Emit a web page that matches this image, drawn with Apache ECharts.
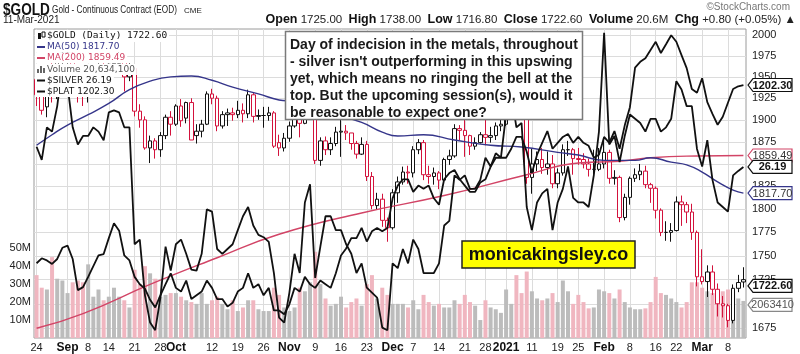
<!DOCTYPE html>
<html>
<head>
<meta charset="utf-8">
<script src="https://cdn.jsdelivr.net/npm/echarts@6/dist/echarts.min.js"></script>
<style>
  html, body { margin: 0; padding: 0; background: #fff; }
  #chart { width: 800px; height: 354px; }
</style>
</head>
<body>
<div id="chart"></div>
<script>
// Trading days Aug 24 2020 - Mar 11 2021 (weekends and exchange holidays skipped)
const holidays = ['2020-09-07', '2020-11-26', '2020-12-25', '2021-01-01', '2021-01-18', '2021-02-15'];
const dates = [];
for (let t = Date.UTC(2020, 7, 24); t <= Date.UTC(2021, 2, 11); t += 86400000) {
  const d = new Date(t);
  const iso = d.toISOString().slice(0, 10);
  if (d.getUTCDay() === 0 || d.getUTCDay() === 6 || holidays.includes(iso)) continue;
  dates.push(iso);
}

// x axis tick labels (index into dates, text)
const tickPos = [0, 6, 10, 14, 19, 24, 27, 34, 39, 44, 49, 54, 59, 64, 69, 73, 78, 83, 87, 91, 96, 101, 105, 110, 115, 120, 124, 129, 134];
const tickText = ['24', 'Sep', '8', '14', '21', '28', 'Oct', '12', '19', '26', 'Nov', '9', '16', '23', 'Dec', '7', '14', '21', '28', '2021', '11', '19', '25', 'Feb', '8', '16', '22', 'Mar', '8'];
const boldTicks = ['Sep', 'Oct', 'Nov', 'Dec', '2021', 'Feb', 'Mar'];

const goldTicks = [1675, 1700, 1725, 1750, 1775, 1800, 1825, 1850, 1875, 1900, 1925, 1950, 1975, 2000];
const volTicks = [10, 20, 30, 40, 50];

// $GOLD daily candles
const opens = [
  1947, 1929, 1915, 1953, 1931, 1975, 1978, 1978, 1944, 1938,
  1934, 1943, 1954, 1964, 1947, 1965, 1966, 1970, 1950, 1960,
  1910, 1900, 1868, 1876, 1866, 1882, 1903, 1895, 1916, 1902,
  1920, 1882, 1887, 1895, 1930, 1925, 1893, 1906, 1908, 1906,
  1911, 1907, 1929, 1904, 1905, 1905, 1908, 1874, 1868, 1879,
  1893, 1910, 1896, 1946, 1951, 1854, 1876, 1866, 1873, 1886,
  1887, 1885, 1873, 1861, 1872, 1836, 1804, 1811, 1788, 1780,
  1818, 1830, 1841, 1840, 1866, 1874, 1838, 1836, 1840, 1832,
  1855, 1859, 1890, 1888, 1882, 1870, 1874, 1883, 1880, 1882,
  1893, 1895, 1946, 1954, 1918, 1913, 1835, 1850, 1855, 1846,
  1850, 1828, 1840, 1866, 1866, 1856, 1855, 1850, 1844, 1844,
  1850, 1863, 1834, 1835, 1791, 1813, 1834, 1838, 1842, 1827,
  1823, 1799, 1775, 1775, 1777, 1808, 1805, 1797, 1775, 1728,
  1723, 1733, 1715, 1700, 1698, 1683, 1716, 1725
];
const highs = [
  1958, 1937, 1956, 1978, 1976, 1984, 2001, 1980, 1950, 1947,
  1949, 1960, 1974, 1970, 1968, 1977, 1983, 1973, 1966, 1963,
  1918, 1904, 1882, 1879, 1886, 1906, 1910, 1918, 1924, 1921,
  1925, 1895, 1900, 1933, 1936, 1928, 1910, 1913, 1914, 1922,
  1919, 1935, 1931, 1912, 1915, 1915, 1910, 1883, 1885, 1898,
  1914, 1913, 1950, 1966, 1965, 1880, 1881, 1880, 1892, 1900,
  1894, 1885, 1876, 1880, 1876, 1841, 1818, 1817, 1791, 1822,
  1836, 1847, 1848, 1870, 1878, 1877, 1848, 1846, 1842, 1857,
  1866, 1895, 1894, 1907, 1883, 1880, 1886, 1902, 1892, 1897,
  1904, 1950, 1957, 1963, 1926, 1917, 1867, 1864, 1868, 1864,
  1860, 1845, 1872, 1876, 1868, 1868, 1862, 1856, 1866, 1868,
  1877, 1866, 1843, 1837, 1817, 1836, 1845, 1850, 1848, 1829,
  1825, 1801, 1787, 1785, 1814, 1815, 1808, 1806, 1777, 1757,
  1740, 1740, 1721, 1708, 1700, 1720, 1730, 1738
];
const lows = [
  1916, 1906, 1903, 1920, 1924, 1962, 1963, 1937, 1920, 1916,
  1920, 1932, 1945, 1942, 1942, 1954, 1958, 1933, 1945, 1904,
  1891, 1866, 1851, 1856, 1858, 1878, 1882, 1893, 1892, 1896,
  1877, 1873, 1880, 1894, 1918, 1887, 1890, 1893, 1899, 1902,
  1897, 1902, 1897, 1900, 1891, 1899, 1868, 1859, 1864, 1875,
  1891, 1880, 1895, 1938, 1850, 1848, 1860, 1860, 1870, 1858,
  1877, 1866, 1856, 1860, 1831, 1800, 1800, 1781, 1765, 1778,
  1807, 1827, 1828, 1835, 1861, 1832, 1828, 1827, 1822, 1828,
  1849, 1857, 1877, 1858, 1860, 1866, 1873, 1871, 1874, 1877,
  1887, 1893, 1938, 1902, 1906, 1828, 1817, 1842, 1839, 1838,
  1823, 1823, 1837, 1859, 1838, 1849, 1845, 1836, 1833, 1842,
  1845, 1828, 1827, 1786, 1788, 1805, 1830, 1832, 1823, 1807,
  1790, 1771, 1766, 1765, 1776, 1782, 1785, 1767, 1718, 1720,
  1707, 1709, 1687, 1686, 1676, 1680, 1712, 1716.8
];
const closes = [
  1929, 1911, 1953, 1931, 1975, 1978, 1978, 1944, 1938, 1934,
  1943, 1954, 1964, 1947, 1965, 1966, 1970, 1950, 1962, 1910,
  1900, 1868, 1876, 1866, 1882, 1903, 1895, 1916, 1899, 1920,
  1877, 1887, 1895, 1930, 1925, 1893, 1906, 1908, 1906, 1911,
  1907, 1929, 1904, 1905, 1905, 1908, 1870, 1868, 1879, 1893,
  1910, 1896, 1946, 1951, 1854, 1876, 1866, 1873, 1886, 1887,
  1885, 1873, 1861, 1872, 1836, 1804, 1811, 1788, 1780, 1818,
  1830, 1841, 1840, 1866, 1874, 1838, 1836, 1840, 1832, 1855,
  1859, 1890, 1888, 1882, 1870, 1874, 1883, 1880, 1882, 1893,
  1895, 1946, 1954, 1918, 1913, 1835, 1850, 1855, 1846, 1850,
  1828, 1840, 1866, 1866, 1856, 1855, 1850, 1844, 1844, 1850,
  1863, 1834, 1835, 1791, 1813, 1834, 1838, 1842, 1827, 1823,
  1799, 1775, 1775, 1777, 1808, 1805, 1797, 1775, 1728, 1723,
  1733, 1715, 1700, 1698, 1683, 1716, 1722, 1722.6
];

// volume, millions
const volume = [
  35, 28, 27, 45, 33, 32, 25, 31, 32, 31,
  41, 23, 27, 21, 23, 28, 23, 21, 17, 38,
  30, 40, 36, 33, 23, 24, 25, 25, 23, 21,
  20, 19, 25, 19, 21, 23, 19, 16, 21, 15,
  17, 21, 21, 16, 15, 15, 28, 24, 17, 15,
  17, 28, 26, 31, 48, 30, 22, 18, 19, 23,
  17, 20, 22, 18, 30, 35, 22, 28, 24, 19,
  19, 19, 17, 21, 16, 24, 20, 18, 19, 17,
  17, 21, 19, 24, 20, 18, 10, 21, 17, 16,
  14, 27, 19, 35, 25, 37, 26, 22, 21, 22,
  25, 20, 32, 26, 19, 24, 20, 16.5, 17, 27,
  26, 25, 22, 27, 20, 17, 16, 16, 16.5, 20,
  34, 25, 24, 22, 20, 17, 20, 31, 31, 28,
  26, 25, 27, 26, 27, 26, 22, 20.6341
];

// overlays
const silver = [
  26.65, 26.35, 27.1, 27.0, 27.6, 28.6, 28.1, 27.1, 26.7, 26.9,
  26.9, 27.1, 27.0, 26.8, 27.45, 27.5, 27.45, 27.1, 27.1, 24.5,
  24.6, 23.45, 22.9, 22.75, 23.4, 24.45, 23.95, 24.5, 24.6, 24.3,
  23.97, 23.95, 24.3, 25.25, 25.2, 24.4, 24.3, 24.4, 24.5, 24.8,
  25.1, 25.3, 24.9, 24.7, 24.65, 24.55, 23.9, 23.0, 22.9, 23.5,
  24.3, 23.9, 25.4, 25.8, 23.8, 24.45, 25.1, 25.1, 24.8, 24.8,
  24.5, 24.3, 23.9, 24.1, 23.6, 23.5, 23.4, 22.8, 22.75, 24.1,
  24.0, 24.4, 24.1, 24.6, 24.4, 23.9, 23.9, 23.9, 24.1, 24.9,
  25.0, 26.0, 25.9, 26.0, 25.7, 25.7, 25.9, 26.4, 26.2, 26.5,
  26.4, 27.4, 27.9, 27.1, 27.2, 25.3, 24.8, 25.4, 25.6, 25.7,
  24.8, 25.4, 25.7, 26.2, 25.5, 25.4, 25.4, 25.3, 26.0, 27.0,
  29.4, 26.7, 26.9, 26.3, 26.9, 27.4, 27.3, 27.2, 27.0, 27.3,
  27.3, 27.0, 27.1, 27.3, 28.2, 28.0, 27.6, 27.6, 26.6, 26.2,
  26.8, 25.9, 25.4, 25.3, 25.2, 26.0, 26.1, 26.19
];
const plat = [
  914, 921, 918, 913, 920, 936, 939, 920, 877, 881,
  895, 910, 925, 927, 950, 972, 961, 925, 918, 895,
  885, 879, 864, 854, 870, 885, 900, 880, 875, 890,
  865, 870, 875, 890, 880, 865, 865, 855, 860, 875,
  880, 900, 880, 885, 870, 880, 850, 850, 845, 858,
  880, 875, 895, 885, 880, 890, 885, 880, 900, 925,
  935, 950, 950, 965, 945, 960, 965, 960, 965, 1010,
  1030, 1040, 1040, 1020, 1030, 1025, 1030, 1010, 1000, 1040,
  1050, 1055, 1040, 1030, 1020, 1020, 1035, 1040, 1060, 1075,
  1075, 1075, 1090, 1110, 1110, 1085, 1050, 1080, 1100, 1120,
  1090, 1100, 1110, 1115, 1100, 1110, 1100, 1095, 1075, 1080,
  1110, 1100, 1120, 1090, 1130, 1162, 1235, 1246, 1253, 1269,
  1285, 1263, 1280, 1298, 1285, 1259, 1234, 1195, 1188, 1215,
  1171, 1150, 1131, 1145, 1170, 1195, 1200, 1202.3
];

// moving averages at [day index, value]
const ma50Pts = [[0, 1871], [3, 1883], [6, 1894], [10, 1906], [14, 1919], [18, 1935], [22, 1945], [26, 1950],
  [30, 1951], [34, 1946], [38, 1938], [43, 1930], [47, 1923], [50, 1921], [56, 1910], [63, 1897], [67, 1886],
  [70, 1881.5], [75, 1883], [81, 1877], [88, 1871], [94, 1869], [101, 1863], [105, 1860], [110, 1854],
  [116, 1854], [119, 1857], [123, 1852], [126, 1849], [129, 1841], [132, 1830], [135, 1821], [137, 1817.7]];
const ma200Pts = [[0, 1675], [9, 1690], [22, 1720], [35, 1748], [47, 1773], [63, 1796], [79, 1815],
  [95, 1838], [105, 1851], [113, 1853], [119, 1857], [128, 1859], [137, 1859.49]];

const RED = '#d3123c';
const NAVY = '#35358a';
const MA_RED = '#d24466';
const FONT = '"Liberation Sans", Arial, sans-serif';

const candles = dates.map((d, i) => {
  const o = opens[i], c = closes[i];
  const prev = i ? closes[i - 1] : o;
  const col = c < prev ? RED : '#111';
  return {
    value: [o, c, lows[i], highs[i]],
    itemStyle: { color: '#fff', borderColor: col, color0: col, borderColor0: col }
  };
});

const chart = echarts.init(document.getElementById('chart'));

chart.setOption({
  animation: false,
  backgroundColor: '#fff',
  grid: {
    left: 34, top: 29, width: 712, height: 309,
    show: true, borderColor: '#9a9a9a', borderWidth: 1, backgroundColor: '#fff',
    outerBoundsMode: 'none'
  },
  xAxis: [
    { type: 'category', data: dates, show: false, boundaryGap: true },
    {
      type: 'value', min: -0.5, max: dates.length - 0.5, position: 'bottom',
      axisLine: { show: false },
      axisTick: { show: false, customValues: tickPos },
      splitLine: { show: true, lineStyle: { color: '#dcdcdc', width: 1 } },
      axisLabel: {
        customValues: tickPos, margin: 4, color: '#222', fontSize: 11, fontFamily: FONT,
        formatter: v => {
          const t = tickText[tickPos.indexOf(Math.round(v))] || '';
          return boldTicks.includes(t) ? '{b|' + t + '}' : t;
        },
        rich: { b: { fontWeight: 'bold', fontSize: 12, fontFamily: FONT, color: '#111' } }
      }
    }
  ],
  yAxis: [
    {
      type: 'log', position: 'right', min: 1665.2, max: 2007.3,
      axisLine: { show: false },
      axisTick: { show: false, customValues: goldTicks },
      splitLine: { show: true, lineStyle: { color: '#dcdcdc', width: 1 } },
      axisLabel: { customValues: goldTicks, formatter: v => String(Math.round(v)), margin: 6, color: '#222', fontSize: 11, fontFamily: FONT }
    },
    {
      type: 'value', position: 'left', min: 0, max: 172,
      axisLine: { show: false },
      axisTick: { show: false, customValues: volTicks },
      splitLine: { show: false },
      axisLabel: { customValues: volTicks, formatter: '{value}M', margin: 3, color: '#222', fontSize: 11, fontFamily: FONT }
    },
    { type: 'log', min: 22.598, max: 29.498, show: false },
    { type: 'log', min: 814.7, max: 1310.5, show: false }
  ],
  series: [
    {
      name: 'Volume', type: 'bar', xAxisIndex: 0, yAxisIndex: 1, data: volume, barWidth: 4,
      itemStyle: {
        color: p => {
          const i = p.dataIndex;
          return closes[i] < (i ? closes[i - 1] : opens[i]) ? '#f0b6c0' : '#bcbcbc';
        }
      }
    },
    {
      name: 'MA(200)', type: 'line', xAxisIndex: 0, yAxisIndex: 0, data: ma200Pts, smooth: true,
      symbol: 'none', lineStyle: { color: MA_RED, width: 1.4 }
    },
    {
      name: 'MA(50)', type: 'line', xAxisIndex: 0, yAxisIndex: 0, data: ma50Pts, smooth: true,
      symbol: 'none', lineStyle: { color: NAVY, width: 1.4 }
    },
    {
      name: '$GOLD', type: 'candlestick', xAxisIndex: 0, yAxisIndex: 0, data: candles, barWidth: 4
    },
    {
      name: '$SILVER', type: 'line', xAxisIndex: 0, yAxisIndex: 2, data: silver,
      symbol: 'none', lineStyle: { color: '#111', width: 1.8 }
    },
    {
      name: '$PLAT', type: 'line', xAxisIndex: 0, yAxisIndex: 3, data: plat,
      symbol: 'none', lineStyle: { color: '#111', width: 1.8 }
    }
  ]
});

// --- texts, legend, boxes and right-side value tags
const els = [];
const txt = (x, y, text, font, fill, extra, el) =>
  els.push(Object.assign({ type: 'text', z: 100, style: Object.assign({ x, y, text, font, fill, verticalAlign: 'middle' }, extra || {}) }, el || {}));

txt(0, 10, '$GOLD', 'bold 17px ' + FONT, '#111', null, { x: 3, scaleX: 0.8 });
txt(0, 10, 'Gold - Continuous Contract (EOD)', '10px ' + FONT, '#222', null, { x: 52, scaleX: 0.82 });
txt(0, 11, 'CME', '8px ' + FONT, '#222', null, { x: 184 });
txt(3, 20, '11-Mar-2021', '10px ' + FONT, '#222');
txt(790, 7, '\u00a9StockCharts.com', '10px ' + FONT, '#777', { align: 'right' });
txt(796, 20,
  '{b|Open} 1725.00  {b|High} 1738.00  {b|Low} 1716.80  {b|Close} 1722.60  {b|Volume} 20.6M  {b|Chg} +0.80 (+0.05%) \u25b2',
  '11.5px ' + FONT, '#222',
  { align: 'right', rich: { b: { fontWeight: 'bold', fontSize: 12.5, fontFamily: FONT, fill: '#111' } } });

// legend inside the plot
const LEG = '9px "DejaVu Sans", Verdana, sans-serif';
const legend = [
  { y: 36, text: '$GOLD (Daily) ' + closes[closes.length - 1].toFixed(2), color: '#111', font: '9.5px "DejaVu Sans Mono", monospace' },
  { y: 47, text: 'MA(50) ' + ma50Pts[ma50Pts.length - 1][1].toFixed(2), color: NAVY, dash: NAVY },
  { y: 58, text: 'MA(200) ' + ma200Pts[ma200Pts.length - 1][1].toFixed(2), color: MA_RED, dash: MA_RED },
  { y: 69.5, text: 'Volume 20,634,100', color: '#555' },
  { y: 80.5, text: '$SILVER ' + silver[silver.length - 1].toFixed(2), color: '#111', dash: '#111' },
  { y: 91.5, text: '$PLAT ' + plat[plat.length - 1].toFixed(2), color: '#111', dash: '#111' }
];
legend.forEach(l => {
  els.push({ type: 'text', z: 100, style: {
    x: 35, y: l.y, text: l.text, font: l.font || LEG, fill: l.color, verticalAlign: 'middle',
    backgroundColor: '#fff', padding: [1, 2, 1, 12]
  } });
  if (l.dash) {
    els.push({ type: 'rect', z: 101, shape: { x: 37, y: l.y - 1, width: 8, height: 2 }, style: { fill: l.dash } });
  }
});
// candle icon and volume icon
els.push({ type: 'rect', z: 101, shape: { x: 38, y: 33, width: 3, height: 6 }, style: { fill: '#111' } });
els.push({ type: 'rect', z: 101, shape: { x: 42, y: 32, width: 3, height: 5 }, style: { fill: '#fff', stroke: '#111', lineWidth: 1 } });
[[37, 4], [40, 7], [43, 5]].forEach(([x, h]) =>
  els.push({ type: 'rect', z: 101, shape: { x, y: 73 - h, width: 2, height: h }, style: { fill: '#666' } }));

// comment box
els.push({ type: 'rect', z: 100, shape: { x: 285.5, y: 31.5, width: 297, height: 88 },
  style: { fill: '#fff', stroke: '#7a7a7a', lineWidth: 1.5 } });
els.push({ type: 'text', z: 101, style: {
  x: 290, y: 37,
  text: 'Day of indecision in the metals, throughout\n- silver isn\'t outperforming in this upswing\nyet, which means no ringing the bell at the\ntop. But the upcoming session(s), would it\nbe reasonable to expect one?',
  font: 'bold 14px ' + FONT, fill: '#1a1a1a', lineHeight: 17, verticalAlign: 'top'
} });

// yellow site box
els.push({ type: 'rect', z: 100, shape: { x: 462, y: 241, width: 173, height: 27 },
  style: { fill: '#ffff00', stroke: '#222', lineWidth: 1.5 } });
txt(548.5, 255, 'monicakingsley.co', 'bold 18px ' + FONT, '#111', { align: 'center' });

// right-edge value tags
const tags = [
  { text: plat[plat.length - 1].toFixed(2), axis: 3, value: plat[plat.length - 1], stroke: '#111', fill: '#111', bold: true },
  { text: ma200Pts[ma200Pts.length - 1][1].toFixed(2), axis: 0, value: ma200Pts[ma200Pts.length - 1][1], stroke: MA_RED, fill: '#333' },
  { text: silver[silver.length - 1].toFixed(2), axis: 2, value: silver[silver.length - 1], stroke: '#111', fill: '#111', bold: true },
  { text: ma50Pts[ma50Pts.length - 1][1].toFixed(2), axis: 0, value: ma50Pts[ma50Pts.length - 1][1], stroke: NAVY, fill: '#333' },
  { text: closes[closes.length - 1].toFixed(2), axis: 0, value: closes[closes.length - 1], stroke: '#111', fill: '#111', bold: true, dy: 4 },
  { text: '2063410', axis: 1, value: volume[volume.length - 1], stroke: '#888', fill: '#555', dy: 4 }
];
tags.forEach(t => {
  const y = chart.convertToPixel({ yAxisIndex: t.axis }, t.value) + (t.dy || 0);
  els.push({ type: 'polygon', z: 110, shape: { points: [[748, y], [753, y - 6.5], [792, y - 6.5], [792, y + 6.5], [753, y + 6.5]] },
    style: { fill: '#fff', stroke: t.stroke, lineWidth: 1.2 } });
  els.push({ type: 'text', z: 111, style: { x: 772.5, y: y + 0.5, text: t.text, align: 'center', verticalAlign: 'middle',
    font: (t.bold ? 'bold ' : '') + '11px ' + FONT, fill: t.fill } });
});

chart.setOption({ graphic: { elements: els } });
</script>
</body>
</html>
